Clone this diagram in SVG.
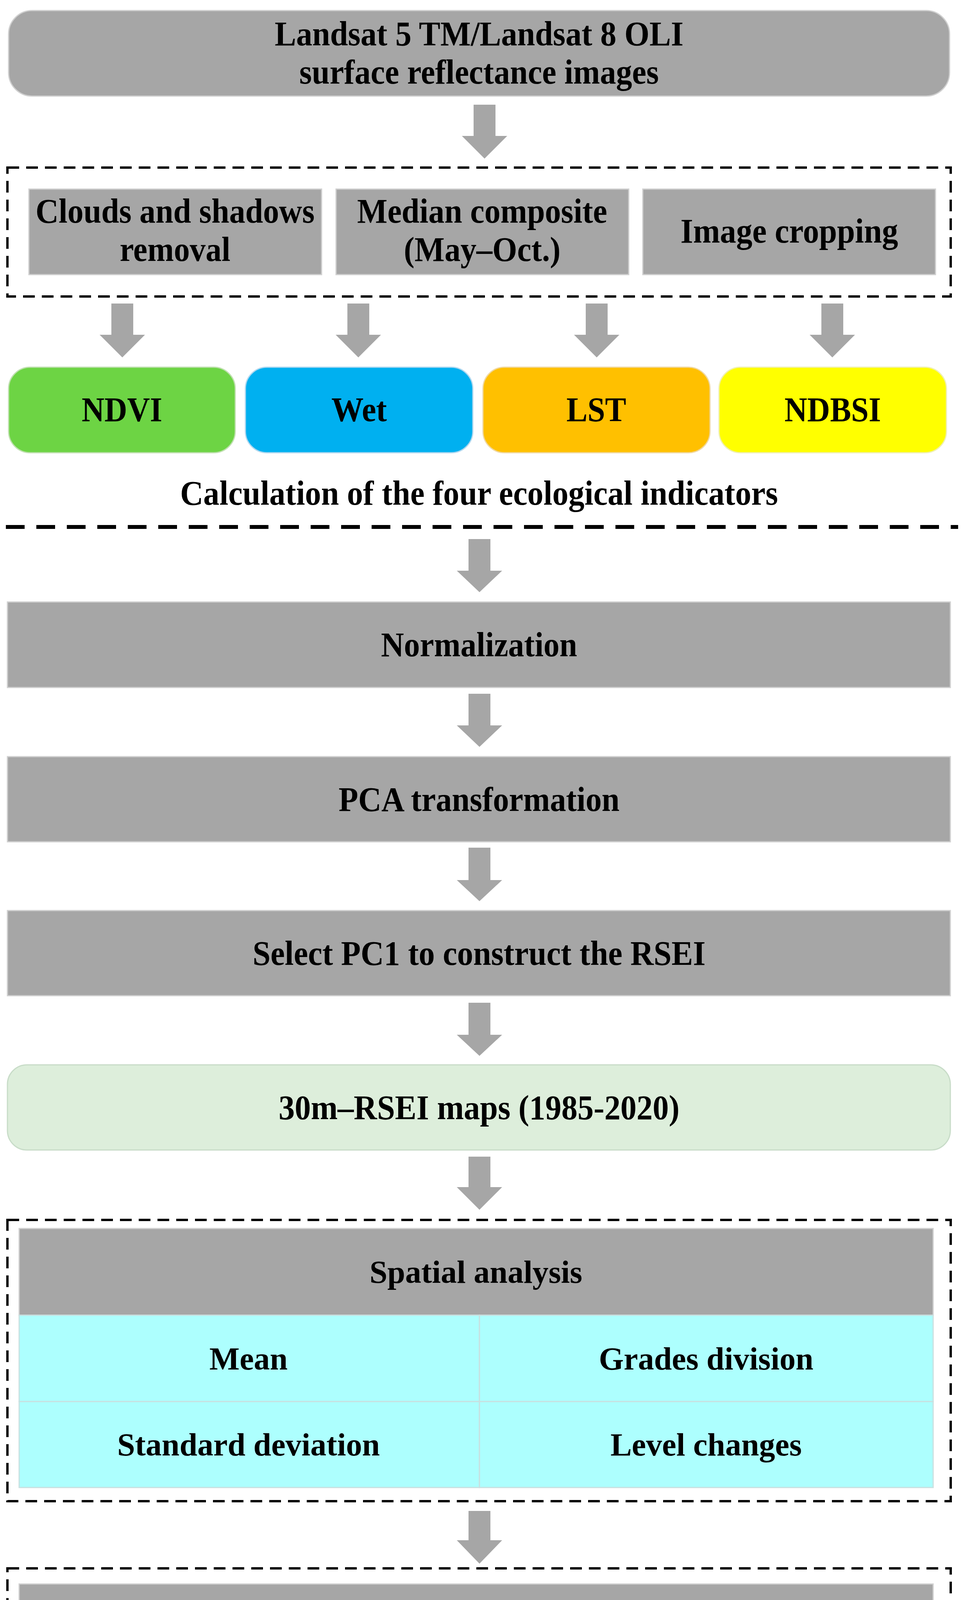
<svg xmlns="http://www.w3.org/2000/svg" width="2467" height="5348" viewBox="0 0 2467 5348">
<style>
text{font-family:"Liberation Serif","Times New Roman",serif;font-weight:bold;font-size:82px;text-anchor:middle;fill:#000}
.n{font-size:88px}
.g{fill:#a6a6a6;stroke:#d0d0d0;stroke-width:3}
.c{fill:#adfffe;stroke:#c8e0e0;stroke-width:3}
.l{fill:#efefef;stroke:#c8c8c8;stroke-width:3}
.d{fill:none;stroke:#000;stroke-width:6;stroke-dasharray:30,18}
.ar{fill:#a6a6a6}
</style>
<rect width="2467" height="5348" fill="#fff"/>
<g id="connectors">
<polygon class="ar" points="1212,268 1268,268 1268,348 1298,348 1240,406 1182,348 1212,348"/>
<polygon class="ar" points="285,777 341,777 341,857 371,857 313,915 255,857 285,857"/>
<polygon class="ar" points="889,777 945,777 945,857 975,857 917,915 859,857 889,857"/>
<polygon class="ar" points="1499,777 1555,777 1555,857 1585,857 1527,915 1469,857 1499,857"/>
<polygon class="ar" points="2102,777 2158,777 2158,857 2188,857 2130,915 2072,857 2102,857"/>
<polygon class="ar" points="1199,1380 1255,1380 1255,1461 1285,1461 1227,1516 1169,1461 1199,1461"/>
<polygon class="ar" points="1199,1776 1255,1776 1255,1857 1285,1857 1227,1912 1169,1857 1199,1857"/>
<polygon class="ar" points="1199,2170 1255,2170 1255,2253 1285,2253 1227,2307 1169,2253 1199,2253"/>
<polygon class="ar" points="1199,2567 1255,2567 1255,2649 1285,2649 1227,2703 1169,2649 1199,2649"/>
<polygon class="ar" points="1199,2961 1255,2961 1255,3039 1285,3039 1227,3097 1169,3039 1199,3039"/>
<polygon class="ar" points="1199,3868 1255,3868 1255,3943 1285,3943 1227,4003 1169,3943 1199,3943"/>
<polygon class="ar" points="460,4512 516,4512 516,4594 546,4594 488,4650 430,4594 460,4594"/>
<polygon class="ar" points="1262,4512 1318,4512 1318,4594 1348,4594 1290,4650 1232,4594 1262,4594"/>
<polygon class="ar" points="1993,4512 2049,4512 2049,4594 2079,4594 2021,4650 1963,4594 1993,4594"/>
<polygon class="ar" points="1262,4951 1318,4951 1318,5028 1348,5028 1290,5085 1232,5028 1262,5028"/>
</g>
<g id="source"><rect class="g" x="22" y="27" width="2408" height="219" rx="60"/>
<text class="n" x="1226" y="116" textLength="1046" lengthAdjust="spacingAndGlyphs">Landsat 5 TM/Landsat 8 OLI</text><text class="n" x="1226" y="214" textLength="920" lengthAdjust="spacingAndGlyphs">surface reflectance images</text></g>
<g id="preprocess"><rect class="d" x="19" y="429" width="2414" height="330"/></g>
<g id="clouds"><rect class="g" x="74" y="484" width="749" height="219"/><text class="n" x="448" y="570" textLength="714" lengthAdjust="spacingAndGlyphs">Clouds and shadows</text><text class="n" x="448" y="668" textLength="283" lengthAdjust="spacingAndGlyphs">removal</text></g>
<g id="median"><rect class="g" x="860" y="484" width="749" height="219"/><text class="n" x="1234" y="570" textLength="640" lengthAdjust="spacingAndGlyphs">Median composite</text><text class="n" x="1234" y="668" textLength="401" lengthAdjust="spacingAndGlyphs">(May–Oct.)</text></g>
<g id="crop"><rect class="g" x="1645" y="484" width="749" height="219"/><text class="n" x="2020" y="621" textLength="557" lengthAdjust="spacingAndGlyphs">Image cropping</text></g>
<g id="ndvi"><rect x="22" y="940" width="580" height="219" rx="55" fill="#6dd444" stroke="#c0e0b0" stroke-width="3"/><text class="n" x="312" y="1078" textLength="206" lengthAdjust="spacingAndGlyphs">NDVI</text></g>
<g id="wet"><rect x="628" y="940" width="582" height="219" rx="55" fill="#00b0f0" stroke="#b0d8f0" stroke-width="3"/><text class="n" x="919" y="1078" textLength="142" lengthAdjust="spacingAndGlyphs">Wet</text></g>
<g id="lst"><rect x="1236" y="940" width="581" height="219" rx="55" fill="#ffc000" stroke="#f0d8a0" stroke-width="3"/><text class="n" x="1526" y="1078" textLength="153" lengthAdjust="spacingAndGlyphs">LST</text></g>
<g id="ndbsi"><rect x="1840" y="940" width="582" height="219" rx="55" fill="#ffff00" stroke="#f0f0b0" stroke-width="3"/><text class="n" x="2131" y="1078" textLength="247" lengthAdjust="spacingAndGlyphs">NDBSI</text></g>
<g id="caption"><text class="n" x="1226" y="1292" textLength="1530" lengthAdjust="spacingAndGlyphs">Calculation of the four ecological indicators</text>
<line x1="15" y1="1349" x2="2452" y2="1349" stroke="#000" stroke-width="10" stroke-dasharray="48,30"/></g>
<g id="norm"><rect class="g" x="19" y="1541" width="2413" height="219"/><text class="n" x="1226" y="1680" textLength="502" lengthAdjust="spacingAndGlyphs">Normalization</text></g>
<g id="pca"><rect class="g" x="19" y="1937" width="2413" height="218"/><text class="n" x="1226" y="2076" textLength="719" lengthAdjust="spacingAndGlyphs">PCA transformation</text></g>
<g id="pc1"><rect class="g" x="19" y="2331" width="2413" height="218"/><text class="n" x="1226" y="2470" textLength="1159" lengthAdjust="spacingAndGlyphs">Select PC1 to construct the RSEI</text></g>
<g id="rsei"><rect x="19" y="2726" width="2413" height="218" rx="50" fill="#ddeedb" stroke="#c8dcc8" stroke-width="3"/><text class="n" x="1226" y="2865" textLength="1026" lengthAdjust="spacingAndGlyphs">30m–RSEI maps (1985-2020)</text></g>
<g id="spatial">
<rect class="d" x="19" y="3123" width="2414" height="720"/>
<rect class="g" x="49" y="3145" width="2339" height="222"/><text x="1218" y="3284">Spatial analysis</text>
<rect class="c" x="49" y="3367" width="1178" height="221"/><rect class="c" x="1227" y="3367" width="1161" height="221"/>
<rect class="c" x="49" y="3588" width="1178" height="220"/><rect class="c" x="1227" y="3588" width="1161" height="220"/>
<text x="636" y="3506">Mean</text><text x="1807" y="3506">Grades division</text>
<text x="636" y="3726">Standard deviation</text><text x="1807" y="3726">Level changes</text>
</g>
<g id="temporal">
<rect class="d" x="19" y="4015" width="2414" height="903"/>
<rect class="g" x="49" y="4055" width="2339" height="219"/><text x="1218" y="4192">Temporal analysis</text>
<rect class="c" x="49" y="4274" width="900" height="220"/><rect class="c" x="949" y="4274" width="569" height="220"/><rect class="c" x="1518" y="4274" width="870" height="220"/>
<text x="499" y="4412">Sen+Mann Kendall</text><text x="1234" y="4412">Hurst index</text><text x="1953" y="4412">Coefficient of variation</text>
<rect class="l" x="93" y="4656" width="856" height="217"/><rect class="l" x="949" y="4656" width="569" height="217"/><rect class="l" x="1518" y="4656" width="842" height="217"/>
<text x="521" y="4792">Change trend</text><text x="1234" y="4792">Persistence</text><text x="1939" y="4792">Time-series stability</text>
</g>
<g id="assessment"><rect x="19" y="5108" width="2413" height="220" rx="55" fill="#fde5d5" stroke="#e8d0c0" stroke-width="3"/><text x="1226" y="5246">Ecological environment assessment</text></g>
</svg>
